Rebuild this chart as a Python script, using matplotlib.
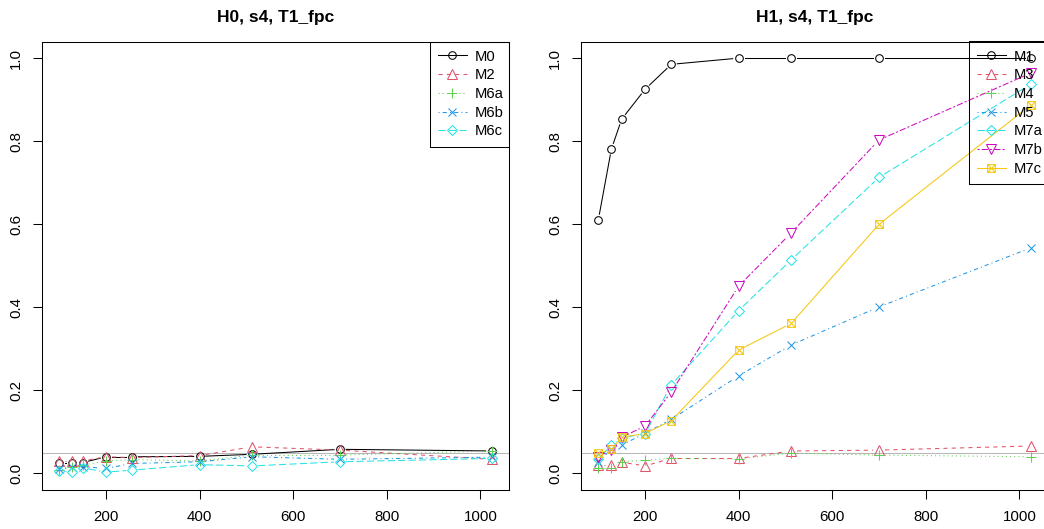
import numpy as np
import matplotlib
matplotlib.use("Agg")
import matplotlib.pyplot as plt
from matplotlib.lines import Line2D
from matplotlib.path import Path
from matplotlib.ticker import FormatStrFormatter

plt.rcParams['font.family'] = ['Liberation Sans', 'DejaVu Sans']

# sample sizes
n = [100, 128, 150, 200, 256, 400, 512, 700, 1024]

# left panel: H0
h0_names = ["M0", "M2", "M6a", "M6b", "M6c"]
h0_M0 = [0.026, 0.026, 0.026, 0.040, 0.040, 0.041, 0.046, 0.058, 0.054]
h0_M2 = [0.030, 0.030, 0.030, 0.040, 0.038, 0.043, 0.064, 0.056, 0.034]
h0_M6a = [0.008, 0.016, 0.020, 0.030, 0.033, 0.030, 0.044, 0.044, 0.054]
h0_M6b = [0.010, 0.016, 0.016, 0.012, 0.024, 0.028, 0.040, 0.034, 0.039]
h0_M6c = [0.005, 0.004, 0.013, 0.003, 0.008, 0.021, 0.018, 0.028, 0.036]
h0_vals = [h0_M0, h0_M2, h0_M6a, h0_M6b, h0_M6c]

# right panel: H1
h1_names = ["M1", "M3", "M4", "M5", "M7a", "M7b", "M7c"]
h1_M1 = [0.610, 0.781, 0.853, 0.925, 0.985, 1.000, 1.000, 1.000, 1.000]
h1_M3 = [0.020, 0.020, 0.027, 0.018, 0.036, 0.036, 0.054, 0.056, 0.066]
h1_M4 = [0.012, 0.012, 0.028, 0.032, 0.036, 0.035, 0.049, 0.044, 0.040]
h1_M5 = [0.028, 0.058, 0.068, 0.097, 0.130, 0.235, 0.309, 0.401, 0.543]
h1_M7a = [0.035, 0.068, 0.085, 0.096, 0.213, 0.392, 0.514, 0.713, 0.937]
h1_M7b = [0.040, 0.057, 0.087, 0.114, 0.196, 0.451, 0.579, 0.803, 0.964]
h1_M7c = [0.048, 0.058, 0.087, 0.096, 0.127, 0.297, 0.361, 0.600, 0.887]
h1_vals = [h1_M1, h1_M3, h1_M4, h1_M5, h1_M7a, h1_M7b, h1_M7c]

# R style palette / pch / lty
cols = ["black", "#DF536B", "#61D04F", "#2297E6", "#28E2E5", "#CD0BBC", "#F5C710"]
box_x = Path([(-1, -1), (1, -1), (1, 1), (-1, 1), (-1, -1), (-1, -1), (1, 1), (-1, 1), (1, -1)],
             [Path.MOVETO, Path.LINETO, Path.LINETO, Path.LINETO, Path.CLOSEPOLY,
              Path.MOVETO, Path.LINETO, Path.MOVETO, Path.LINETO])
marks = ['o', '^', '+', 'x', 'D', 'v', box_x]
msizes = [5.5, 6.5, 7, 5.5, 5.2, 6.5, 5.5]
ltys = ['-', (0, (4, 4)), (0, (1, 3)), (0, (1, 3, 4, 3)), (0, (7, 3)), (0, (2, 2, 6, 2)), '-']

LW = 0.75


def draw_b(ax, x, y, i, gap=6.0):
    c = cols[i]
    ax.plot(x, y, linestyle='none', marker=marks[i], ms=msizes[i], mfc='none',
            mec=c, mew=LW, zorder=3)
    pts = ax.transData.transform(np.column_stack([x, y]))
    inv = ax.transData.inverted()
    for k in range(len(pts) - 1):
        p0, p1 = pts[k], pts[k + 1]
        d = p1 - p0
        L = np.hypot(d[0], d[1])
        if L <= 2 * gap:
            continue
        u = d / L
        seg = inv.transform(np.array([p0 + u * gap, p1 - u * gap]))
        ax.plot(seg[:, 0], seg[:, 1], color=c, linestyle=ltys[i], lw=LW, zorder=3)


def panel(ax, title, names, vals):
    ax.set_xlim(63.04, 1060.96)
    ax.set_ylim(-0.04, 1.04)
    ax.axhline(0.05, color='#b8b8b8', lw=LW, zorder=1)
    for i, v in enumerate(vals):
        draw_b(ax, n, v, i)
    ax.set_xticks([200, 400, 600, 800, 1000])
    ax.set_yticks([0, 0.2, 0.4, 0.6, 0.8, 1.0])
    ax.yaxis.set_major_formatter(FormatStrFormatter('%.1f'))
    ax.tick_params(axis='both', length=6.5, width=LW, labelsize=10.8, direction='out')
    ax.tick_params(axis='x', pad=8)
    ax.tick_params(axis='y', pad=7)
    for lab in ax.get_yticklabels():
        lab.set_rotation(90)
        lab.set_va('center')
    for sp in ax.spines.values():
        sp.set_linewidth(LW)
        sp.set_color('black')
    ax.set_title(title, fontweight='bold', fontsize=12.5, pad=14)
    handles = [Line2D([], [], color=cols[i], ls=ltys[i], lw=LW, marker=marks[i],
                      ms=msizes[i], mfc='none', mec=cols[i], mew=LW)
               for i in range(len(names))]
    leg = ax.legend(handles, names, loc='upper left', bbox_to_anchor=(0.83, 0, 0.17, 1),
                    mode='expand', borderaxespad=0, fancybox=False, fontsize=10.6,
                    handlelength=2.0, handletextpad=0.55, labelspacing=0.32,
                    borderpad=0.55, framealpha=1)
    frame = leg.get_frame()
    frame.set_facecolor('none')
    frame.set_edgecolor('black')
    frame.set_linewidth(LW)


fig = plt.figure(figsize=(10.44, 5.29), dpi=100)
ax1 = fig.add_axes([42 / 1044, 39 / 529, 467 / 1044, 448.5 / 529])
ax2 = fig.add_axes([581 / 1044, 39 / 529, 467 / 1044, 448.5 / 529])

panel(ax1, "H0, s4, T1_fpc", h0_names, h0_vals)
panel(ax2, "H1, s4, T1_fpc", h1_names, h1_vals)

fig.savefig("out.png", dpi=100)
